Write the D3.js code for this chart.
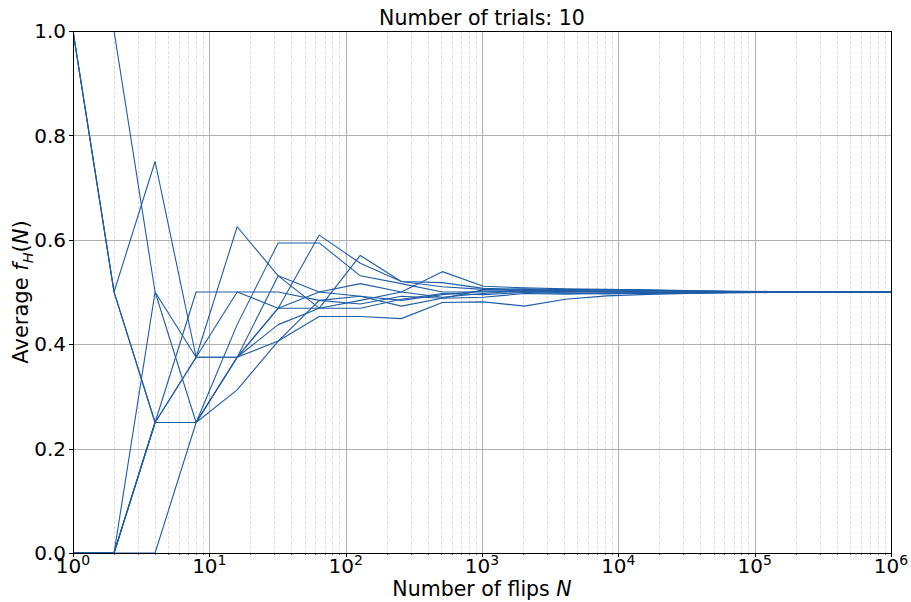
<!DOCTYPE html>
<html>
<head>
<meta charset="utf-8">
<script src="https://cdn.jsdelivr.net/npm/d3@7"></script>
<style>
  body { margin: 0; background: #fff; }
  text { font-family: "DejaVu Sans", sans-serif; fill: #000; }
</style>
</head>
<body>
<div id="chart"></div>
<script>
// --- DATA ---
var flips = [1, 2, 4, 8, 16, 32, 64, 128, 256, 512, 1024, 2048, 4096, 8192,
             16384, 32768, 65536, 131072, 262144, 524288, 1048576];

// average fraction of heads for each trial
var trial1  = [1, 1, 0.5, 0.375, 0.625, 0.531, 0.5, 0.516, 0.5, 0.49, 0.497, 0.503, 0.503, 0.5035, 0.503, 0.5025, 0.5012, 0.5008, 0.5005, 0.5003, 0.5002];
var trial2  = [1, 0.5, 0.75, 0.375, 0.5, 0.469, 0.609, 0.555, 0.52, 0.518, 0.507, 0.505, 0.502, 0.5015, 0.5005, 0.4995, 0.4992, 0.4995, 0.4998, 0.5, 0.5];
var trial3  = [1, 0.5, 0.25, 0.5, 0.5, 0.5, 0.484, 0.492, 0.473, 0.488, 0.504, 0.506, 0.5045, 0.505, 0.5035, 0.502, 0.5008, 0.5005, 0.5003, 0.5001, 0.5];
var trial4  = [1, 0.5, 0.25, 0.375, 0.375, 0.531, 0.469, 0.484, 0.5, 0.539, 0.511, 0.508, 0.506, 0.5045, 0.504, 0.503, 0.5015, 0.501, 0.5006, 0.5003, 0.5002];
var trial5  = [0, 0, 0, 0.25, 0.4375, 0.594, 0.594, 0.531, 0.516, 0.5, 0.5, 0.501, 0.4985, 0.4975, 0.497, 0.4975, 0.4988, 0.4993, 0.4997, 0.4998, 0.4999];
var trial6  = [0, 0, 0.5, 0.25, 0.3125, 0.406, 0.453, 0.453, 0.449, 0.48, 0.481, 0.473, 0.486, 0.4925, 0.4955, 0.497, 0.4985, 0.499, 0.4995, 0.4997, 0.4999];
var trial7  = [0, 0, 0.25, 0.375, 0.375, 0.469, 0.469, 0.57, 0.52, 0.51, 0.505, 0.502, 0.5005, 0.4995, 0.499, 0.4985, 0.4995, 0.5002, 0.5001, 0.5, 0.5];
var trial8  = [0, 0, 0.25, 0.25, 0.375, 0.4375, 0.469, 0.469, 0.486, 0.497, 0.495, 0.499, 0.4975, 0.4965, 0.498, 0.4985, 0.4992, 0.4996, 0.4998, 0.4999, 0.5];
var trial9  = [0, 0, 0.25, 0.25, 0.375, 0.406, 0.484, 0.477, 0.492, 0.488, 0.49, 0.497, 0.496, 0.4975, 0.4985, 0.499, 0.4996, 0.4998, 0.4999, 0.5, 0.5];
var trial10 = [0, 0, 0.25, 0.25, 0.375, 0.469, 0.5, 0.492, 0.484, 0.495, 0.502, 0.5, 0.501, 0.501, 0.5015, 0.501, 0.5004, 0.5002, 0.5001, 0.5, 0.5];
var trials = [trial1, trial2, trial3, trial4, trial5, trial6, trial7, trial8, trial9, trial10];

var xTicks = [1, 10, 100, 1000, 10000, 100000, 1000000];
var yTicks = [0, 0.2, 0.4, 0.6, 0.8, 1.0];

// --- SETUP ---
var width = 911, height = 602;
var margin = { left: 73, right: 20, top: 31, bottom: 49 };
var innerW = width - margin.left - margin.right;
var innerH = height - margin.top - margin.bottom;

var svg = d3.select("#chart").append("svg")
  .attr("width", width)
  .attr("height", height);

var x = d3.scaleLog().domain([1, 1e6]).range([0, innerW]);
var y = d3.scaleLinear().domain([0, 1]).range([innerH, 0]);

var g = svg.append("g").attr("transform", "translate(" + margin.left + "," + margin.top + ")");

svg.append("defs").append("clipPath").attr("id", "plotClip")
  .append("rect").attr("width", innerW).attr("height", innerH);

// --- GRID ---
var minorTicks = [];
for (var e = 0; e < 6; e++) {
  for (var m = 2; m < 10; m++) minorTicks.push(m * Math.pow(10, e));
}

g.selectAll(".minor-grid").data(minorTicks).enter().append("line")
  .attr("class", "minor-grid")
  .attr("x1", d => Math.round(x(d)) + 0.5).attr("x2", d => Math.round(x(d)) + 0.5)
  .attr("y1", 0).attr("y2", innerH)
  .attr("stroke", "#d4d4d4").attr("stroke-width", 0.8)
  .attr("stroke-dasharray", "3,2");

g.selectAll(".xgrid").data(xTicks).enter().append("line")
  .attr("x1", d => Math.round(x(d)) + 0.5).attr("x2", d => Math.round(x(d)) + 0.5)
  .attr("y1", 0).attr("y2", innerH)
  .attr("stroke", "#b0b0b0").attr("stroke-width", 1);

g.selectAll(".ygrid").data(yTicks).enter().append("line")
  .attr("x1", 0).attr("x2", innerW)
  .attr("y1", d => Math.round(y(d)) + 0.5).attr("y2", d => Math.round(y(d)) + 0.5)
  .attr("stroke", "#b0b0b0").attr("stroke-width", 1);

// --- LINES ---
var line = d3.line()
  .x((d, i) => x(flips[i]))
  .y(d => y(d));

g.append("g").attr("clip-path", "url(#plotClip)")
  .selectAll("path").data(trials).enter().append("path")
  .attr("d", line)
  .attr("fill", "none")
  .attr("stroke", "#1f5ca8")
  .attr("stroke-width", 1.1)
  .attr("stroke-linejoin", "round");

// --- FRAME ---
g.append("rect")
  .attr("x", 0.5).attr("y", 0.5)
  .attr("width", innerW).attr("height", innerH)
  .attr("fill", "none").attr("stroke", "#000").attr("stroke-width", 1);

// --- AXES ---
// y ticks and labels
var yAxis = g.append("g");
yAxis.selectAll("line").data(yTicks).enter().append("line")
  .attr("x1", -4).attr("x2", 0)
  .attr("y1", d => Math.round(y(d)) + 0.5).attr("y2", d => Math.round(y(d)) + 0.5)
  .attr("stroke", "#000");
yAxis.selectAll("text").data(yTicks).enter().append("text")
  .attr("x", -7).attr("y", d => y(d))
  .attr("dy", "0.36em")
  .attr("text-anchor", "end")
  .style("font-size", "20px")
  .text(d => d3.format(".1f")(d));

// x ticks and labels
var xAxis = g.append("g").attr("transform", "translate(0," + innerH + ")");
xAxis.selectAll(".major").data(xTicks).enter().append("line")
  .attr("x1", d => Math.round(x(d)) + 0.5).attr("x2", d => Math.round(x(d)) + 0.5)
  .attr("y1", 0).attr("y2", 4)
  .attr("stroke", "#000");
xAxis.selectAll(".minor").data(minorTicks).enter().append("line")
  .attr("x1", d => Math.round(x(d)) + 0.5).attr("x2", d => Math.round(x(d)) + 0.5)
  .attr("y1", 0).attr("y2", 2)
  .attr("stroke", "#000").attr("stroke-width", 0.6);

var xl = xAxis.selectAll("text").data(xTicks).enter().append("text")
  .attr("x", d => x(d))
  .attr("y", 20)
  .attr("text-anchor", "middle")
  .style("font-size", "20px");
xl.append("tspan").text("10");
xl.append("tspan").attr("dy", -8).style("font-size", "14px")
  .text(d => Math.round(Math.log10(d)));

// --- LABELS ---
svg.append("text")
  .attr("x", margin.left + innerW / 2).attr("y", 25)
  .attr("text-anchor", "middle")
  .style("font-size", "20.5px")
  .text("Number of trials: 10");

var xt = svg.append("text")
  .attr("x", margin.left + innerW / 2).attr("y", 596)
  .attr("text-anchor", "middle")
  .style("font-size", "20.5px");
xt.append("tspan").text("Number of flips ");
xt.append("tspan").style("font-style", "italic").text("N");

var yt = svg.append("text")
  .attr("transform", "translate(28," + (margin.top + innerH / 2) + ") rotate(-90)")
  .attr("text-anchor", "middle")
  .style("font-size", "21px");
yt.append("tspan").text("Average ");
yt.append("tspan").style("font-style", "italic").text("f");
yt.append("tspan").attr("dy", 5).style("font-size", "14.5px").style("font-style", "italic").text("H");
yt.append("tspan").attr("dy", -5).text("(");
yt.append("tspan").style("font-style", "italic").text("N");
yt.append("tspan").text(")");
</script>
</body>
</html>
